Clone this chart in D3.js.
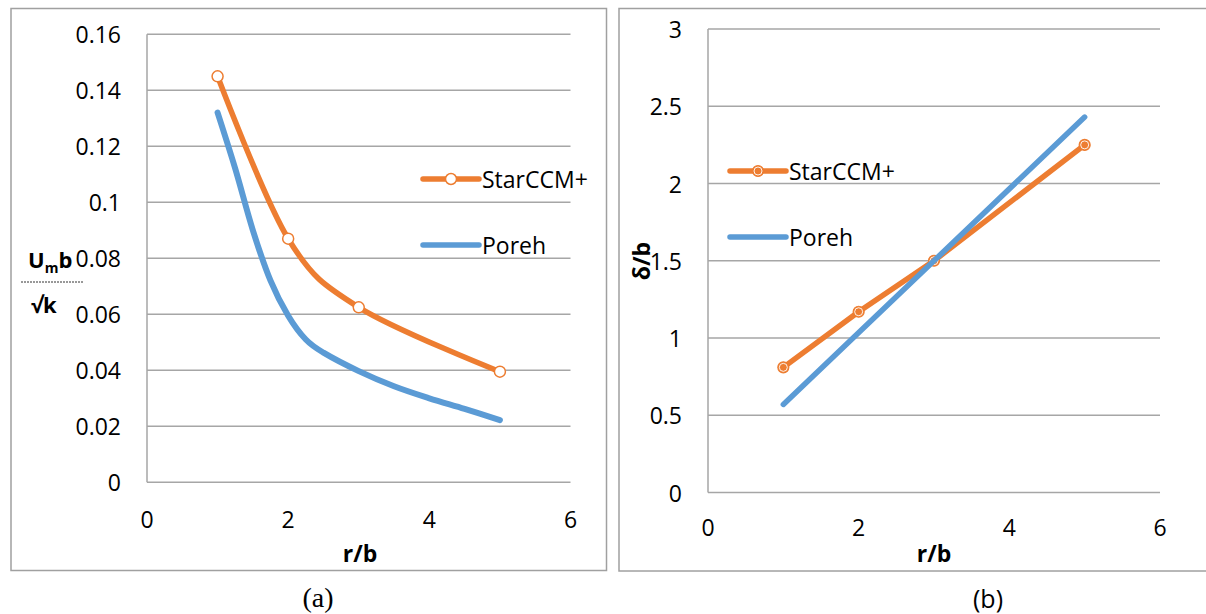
<!DOCTYPE html>
<html>
<head>
<meta charset="utf-8">
<script src="https://cdn.jsdelivr.net/npm/d3@7"></script>
<style>
  html, body { margin: 0; padding: 0; background: #fff; }
  svg { display: block; }
  text { font-family: "Open Sans", "DejaVu Sans", sans-serif; fill: #000; }
</style>
</head>
<body>
<svg id="chart" width="1206" height="614"></svg>
<script>
// ---- data ----
// (a) normalised maximum velocity vs r/b
const velX = [1, 2, 3, 5];
const velStar = [0.145, 0.087, 0.0625, 0.0395];
const velPorehX = [1, 1.25, 1.5, 1.75, 2, 2.25, 2.5, 3, 3.5, 4, 4.5, 5];
const velPoreh = [0.132, 0.112, 0.090, 0.072, 0.0595, 0.051, 0.0463, 0.0397, 0.0343, 0.0300, 0.0262, 0.0222];
const velTicksY = [0, 0.02, 0.04, 0.06, 0.08, 0.1, 0.12, 0.14, 0.16];

// (b) boundary-layer thickness vs r/b
const thkX = [1, 2, 3, 5];
const thkStar = [0.81, 1.17, 1.5, 2.25];
const thkPorehX = [1, 5];
const thkPoreh = [0.57, 2.43];
const thkTicksY = [0, 0.5, 1, 1.5, 2, 2.5, 3];

const ticksX = [0, 2, 4, 6];
const seriesNames = ["StarCCM+", "Poreh"];

// ---- styling ----
const ORANGE = "#ED7D31";
const BLUE = "#5B9BD5";
const GRID = "#a6a6a6";
const FRAME = "#a0a0a0";
const LW = 5.5;
const FS = "23px";

const svg = d3.select("#chart");

function panel(cfg) {
  const g = svg.append("g");
  // frame
  g.append("rect")
    .attr("x", cfg.frame[0]).attr("y", cfg.frame[1])
    .attr("width", cfg.frame[2]).attr("height", cfg.frame[3])
    .attr("fill", "none").attr("stroke", FRAME).attr("stroke-width", 1.5);

  const x = d3.scaleLinear().domain([0, 6]).range(cfg.xr);
  const y = d3.scaleLinear().domain(cfg.yd).range(cfg.yr);

  // horizontal gridlines
  g.append("g").selectAll("line").data(cfg.ticksY).join("line")
    .attr("x1", x(0)).attr("x2", x(6))
    .attr("y1", d => y(d)).attr("y2", d => y(d))
    .attr("stroke", GRID).attr("stroke-width", 1.5);
  // vertical axis line
  g.append("line")
    .attr("x1", x(0)).attr("x2", x(0))
    .attr("y1", y(cfg.yd[1])).attr("y2", y(0))
    .attr("stroke", GRID).attr("stroke-width", 1.5);

  // y tick labels
  g.append("g").selectAll("text").data(cfg.ticksY).join("text")
    .attr("x", cfg.yLabelX).attr("y", d => y(d))
    .attr("text-anchor", "end").attr("dominant-baseline", "central")
    .style("font-size", FS)
    .text(d => cfg.fmt(d));
  // x tick labels
  g.append("g").selectAll("text").data(ticksX).join("text")
    .attr("x", d => x(d)).attr("y", cfg.xLabelY)
    .attr("text-anchor", "middle").attr("dominant-baseline", "central")
    .style("font-size", FS)
    .text(d => d);
  // x axis title
  g.append("text")
    .attr("x", cfg.xTitle[0]).attr("y", cfg.xTitle[1])
    .attr("text-anchor", "middle").attr("dominant-baseline", "central")
    .style("font-size", FS).style("font-weight", "bold")
    .text("r/b");

  return { g, x, y };
}

// ---------- panel (a) ----------
const A = panel({
  frame: [11, 8.5, 595.5, 562],
  xr: [147, 570.5], yd: [0, 0.16], yr: [482.3, 34.3],
  ticksY: velTicksY, fmt: d => d === 0 ? "0" : String(+d.toFixed(2)),
  yLabelX: 121, xLabelY: 519, xTitle: [360, 553]
});

const lineA = d3.line().x(d => A.x(d[0])).y(d => A.y(d[1])).curve(d3.curveCardinal.tension(0));
A.g.append("path")
  .datum(velPorehX.map((v, i) => [v, velPoreh[i]]))
  .attr("d", lineA).attr("fill", "none").attr("stroke", BLUE)
  .attr("stroke-width", LW + 0.5).attr("stroke-linecap", "round").attr("stroke-linejoin", "round");
A.g.append("path")
  .datum(velX.map((v, i) => [v, velStar[i]]))
  .attr("d", lineA).attr("fill", "none").attr("stroke", ORANGE)
  .attr("stroke-width", LW).attr("stroke-linecap", "round").attr("stroke-linejoin", "round");
A.g.append("g").selectAll("circle").data(velX.map((v, i) => [v, velStar[i]])).join("circle")
  .attr("cx", d => A.x(d[0])).attr("cy", d => A.y(d[1])).attr("r", 5.5)
  .attr("fill", "#fff").attr("stroke", ORANGE).attr("stroke-width", 1.5);

// y-axis title: Um b / √k
const yt = A.g.append("text").attr("x", 28).attr("y", 268)
  .style("font-size", "22px").style("font-weight", "bold");
yt.append("tspan").text("U");
yt.append("tspan").attr("dy", 5).style("font-size", "14px").text("m");
yt.append("tspan").attr("dy", -5).text("b");
A.g.append("line").attr("x1", 21).attr("x2", 84).attr("y1", 282).attr("y2", 282)
  .attr("stroke", "#333").attr("stroke-width", 1).attr("stroke-dasharray", "2,1");
A.g.append("text").attr("x", 31).attr("y", 313)
  .style("font-size", "22px").style("font-weight", "bold").text("√k");

// legend
function legend(g, lx, ly, gap, markerFn) {
  const items = [
    { name: seriesNames[0], color: ORANGE, marker: true },
    { name: seriesNames[1], color: BLUE, marker: false }
  ];
  items.forEach((it, i) => {
    const yy = ly + i * gap;
    g.append("line").attr("x1", lx).attr("x2", lx + 56).attr("y1", yy).attr("y2", yy)
      .attr("stroke", it.color).attr("stroke-width", LW).attr("stroke-linecap", "round");
    if (it.marker) markerFn(g, lx + 28, yy);
    g.append("text").attr("x", lx + 59).attr("y", yy)
      .attr("dominant-baseline", "central").style("font-size", FS).text(it.name);
  });
}
legend(A.g, 423, 179, 66, (g, cx, cy) => {
  g.append("circle").attr("cx", cx).attr("cy", cy).attr("r", 5.5)
    .attr("fill", "#fff").attr("stroke", ORANGE).attr("stroke-width", 1.5);
});

svg.append("text").attr("x", 318).attr("y", 597)
  .attr("text-anchor", "middle").attr("dominant-baseline", "central")
  .style("font-family", "'Liberation Serif', 'Times New Roman', serif").style("font-size", "28px")
  .text("(a)");

// ---------- panel (b) ----------
const B = panel({
  frame: [619, 8.5, 600, 562.5],
  xr: [708, 1160], yd: [0, 3], yr: [492.5, 29],
  ticksY: thkTicksY, fmt: d => String(d),
  yLabelX: 682, xLabelY: 527, xTitle: [934, 553]
});

const lineB = d3.line().x(d => B.x(d[0])).y(d => B.y(d[1]));
B.g.append("path")
  .datum(thkX.map((v, i) => [v, thkStar[i]]))
  .attr("d", lineB).attr("fill", "none").attr("stroke", ORANGE)
  .attr("stroke-width", LW).attr("stroke-linecap", "round").attr("stroke-linejoin", "round");

function ringMarker(g, cx, cy) {
  g.append("circle").attr("cx", cx).attr("cy", cy).attr("r", 5.5)
    .attr("fill", ORANGE).attr("stroke", ORANGE).attr("stroke-width", 1.2);
  g.append("circle").attr("cx", cx).attr("cy", cy).attr("r", 4)
    .attr("fill", "none").attr("stroke", "#fff").attr("stroke-width", 0.9);
}
thkX.forEach((v, i) => ringMarker(B.g, B.x(v), B.y(thkStar[i])));

// second series is drawn over the first
B.g.append("path")
  .datum(thkPorehX.map((v, i) => [v, thkPoreh[i]]))
  .attr("d", lineB).attr("fill", "none").attr("stroke", BLUE)
  .attr("stroke-width", LW).attr("stroke-linecap", "round");

// y-axis title δ/b
B.g.append("text")
  .attr("transform", "translate(641,261) rotate(-90)")
  .attr("text-anchor", "middle").attr("dominant-baseline", "central")
  .style("font-size", FS).style("font-weight", "bold")
  .text("δ/b");

legend(B.g, 730, 171, 66, ringMarker);

svg.append("text").attr("x", 988).attr("y", 598)
  .attr("text-anchor", "middle").attr("dominant-baseline", "central")
  .style("font-size", "25px")
  .text("(b)");
</script>
</body>
</html>
